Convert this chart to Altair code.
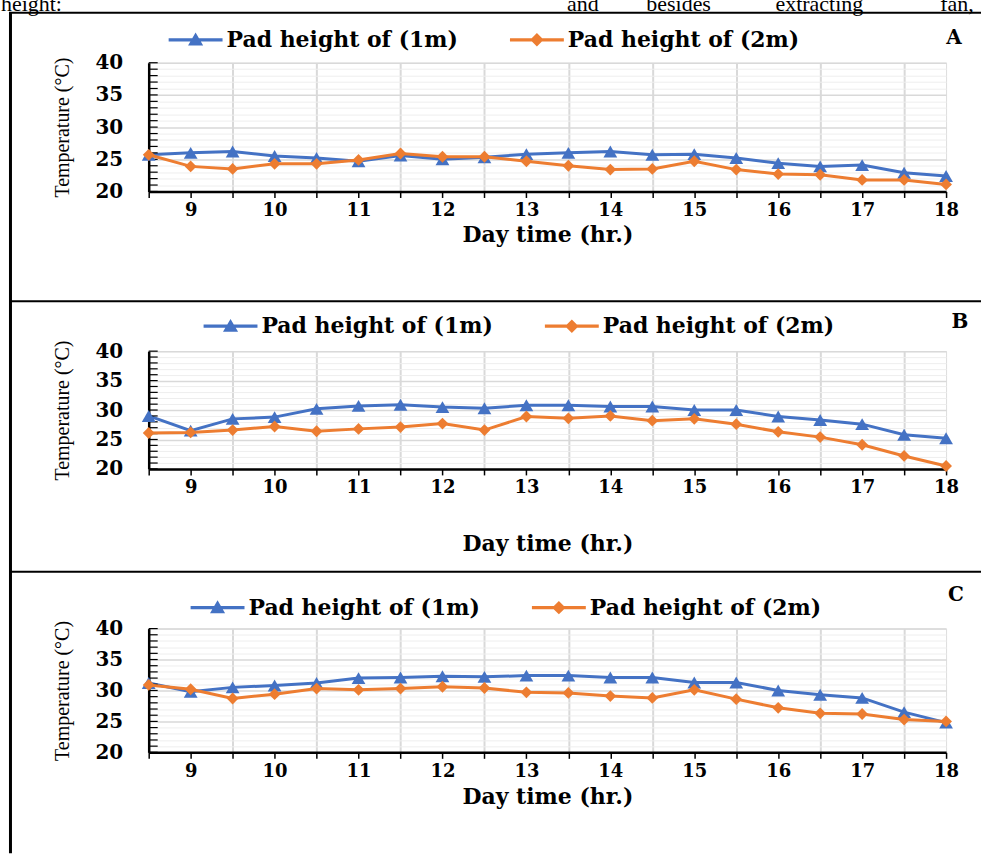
import altair as alt
import pandas as pd

# ---------------- data ----------------
TIME = [8.5, 9, 9.5, 10, 10.5, 11, 11.5, 12, 12.5, 13,
        13.5, 14, 14.5, 15, 15.5, 16, 16.5, 17, 17.5, 18]
SERIES = ["Pad height of (1m)", "Pad height of (2m)"]

A_1M = [25.7, 26.0, 26.2, 25.5, 25.2, 24.7, 25.6, 25.0, 25.3, 25.8,
        26.0, 26.2, 25.7, 25.8, 25.2, 24.4, 23.9, 24.1, 22.9, 22.4]
A_2M = [25.7, 23.9, 23.5, 24.3, 24.3, 24.9, 25.9, 25.4, 25.4, 24.7,
        24.0, 23.4, 23.5, 24.7, 23.4, 22.7, 22.6, 21.8, 21.8, 21.1]
B_1M = [29.0, 26.5, 28.5, 28.8, 30.2, 30.7, 30.9, 30.5, 30.3, 30.8,
        30.8, 30.6, 30.6, 30.0, 30.0, 28.9, 28.3, 27.6, 25.8, 25.2]
B_2M = [26.1, 26.2, 26.6, 27.2, 26.4, 26.8, 27.1, 27.7, 26.6, 28.9,
        28.6, 29.0, 28.2, 28.5, 27.6, 26.3, 25.4, 24.1, 22.2, 20.5]
C_1M = [31.2, 29.8, 30.5, 30.8, 31.2, 32.0, 32.1, 32.3, 32.2, 32.4,
        32.4, 32.1, 32.1, 31.3, 31.3, 30.0, 29.3, 28.8, 26.5, 24.8]
C_2M = [30.9, 30.2, 28.7, 29.4, 30.3, 30.1, 30.3, 30.6, 30.4, 29.7,
        29.6, 29.1, 28.8, 30.1, 28.6, 27.2, 26.3, 26.2, 25.3, 25.0]

Y_TICKS = [20, 21, 22, 23, 24, 25, 26, 27, 28, 29, 30,
           31, 32, 33, 34, 35, 36, 37, 38, 39, 40]

# ---------------- styles ----------------
BLUE = "#4472C4"
ORANGE = "#ED7D31"
BOLD_FONT = "DejaVu Serif"
SERIF = "Liberation Serif"
TRI_PATH = "M-1,-0.06H1V0.06H-1Z M0,-0.27L0.28,0.21L-0.28,0.21Z"
DIA_PATH = "M-1,-0.06H1V0.06H-1Z M0,-0.25L0.25,0L0,0.25L-0.25,0Z"


def panel(blue, orange, height, letter, legend_xy, letter_xy, x_title_pad,
          top_rel, bottom_rel, top_text=False):
    df = pd.DataFrame({
        "time": TIME + TIME,
        "temp": blue + orange,
        "series": [SERIES[0]] * len(TIME) + [SERIES[1]] * len(TIME),
    })
    xs = alt.Scale(domain=[8.5, 18], nice=False, zero=False)
    ys = alt.Scale(domain=[20, 40], nice=False, zero=False)
    x_axis = alt.Axis(
        values=TIME,
        labelExpr="datum.value % 1 === 0 ? format(datum.value, 'd') : ''",
        labelOverlap=False, labelFlush=False,
        grid=True,
        gridColor={"condition": {"test": "datum.value % 1 !== 0 && datum.value > 9",
                                 "value": "#d9d9d9"}, "value": "transparent"},
        gridWidth=2,
        domainColor="black", domainWidth=2.5,
        tickColor="black", tickSize=6, tickWidth=1.5,
        labelFont=BOLD_FONT, labelFontSize=18, labelFontWeight="bold",
        labelColor="black", labelPadding=4,
        title="Day time (hr.)", titleFont=BOLD_FONT, titleFontSize=22,
        titleFontWeight="bold", titleColor="black", titlePadding=x_title_pad,
    )
    y_axis = alt.Axis(
        values=Y_TICKS,
        labelExpr="datum.value % 5 === 0 ? datum.label : ''",
        labelOverlap=False, labelFlush=False,
        grid=True,
        gridColor={"condition": {"test": "datum.value % 5 === 0", "value": "#d9d9d9"},
                   "value": "#eeeeee"},
        gridWidth={"condition": {"test": "datum.value % 5 === 0", "value": 1.5},
                   "value": 1},
        ticks=False,
        domainColor="black", domainWidth=2.5,
        labelFont=BOLD_FONT, labelFontSize=20, labelFontWeight="bold",
        labelColor="black", labelPadding=26,
        title="Temperature (°C)", titleFont=SERIF, titleFontSize=20,
        titleFontWeight="normal", titleColor="black", titlePadding=23,
    )
    X = alt.X("time:Q", scale=xs, axis=x_axis)
    Y = alt.Y("temp:Q", scale=ys, axis=y_axis)
    base = alt.Chart(df)

    inner_ticks = alt.Chart(pd.DataFrame({"temp": Y_TICKS})).mark_rule(
        color="black", strokeWidth=1.2
    ).encode(y=Y, x=alt.value(0), x2=alt.value(9))

    line1 = base.transform_filter(alt.datum.series == SERIES[0]).mark_line(
        color=BLUE, strokeWidth=3).encode(x=X, y=Y)
    pts1 = base.transform_filter(alt.datum.series == SERIES[0]).mark_point(
        shape="triangle-up", filled=True, color=BLUE, size=190, opacity=1).encode(x=X, y=Y)
    line2 = base.transform_filter(alt.datum.series == SERIES[1]).mark_line(
        color=ORANGE, strokeWidth=3).encode(x=X, y=Y)
    pts2 = base.transform_filter(alt.datum.series == SERIES[1]).mark_point(
        shape="diamond", filled=True, color=ORANGE, size=140, opacity=1).encode(x=X, y=Y)

    leg = alt.Legend(
        orient="none", legendX=legend_xy[0], legendY=legend_xy[1],
        direction="horizontal", title=None,
        labelFont=BOLD_FONT, labelFontSize=22, labelFontWeight="bold",
        labelColor="black", labelLimit=500,
        symbolSize=2916, symbolStrokeWidth=0, symbolOpacity=1,
        columnPadding=52, labelOffset=4, padding=0,
    )
    legend_layer = base.transform_filter("false").mark_point(filled=True).encode(
        x=X, y=Y,
        color=alt.Color("series:N", scale=alt.Scale(domain=SERIES, range=[BLUE, ORANGE]),
                        legend=leg),
        shape=alt.Shape("series:N", scale=alt.Scale(domain=SERIES, range=[TRI_PATH, DIA_PATH]),
                        legend=leg),
    )

    deco = alt.Chart(alt.Data(values=[{}]))
    top_line = deco.mark_rule(color="black", strokeWidth=2).encode(
        x=alt.value(-140), x2=alt.value(834), y=alt.value(top_rel))
    left_line = deco.mark_rule(color="black", strokeWidth=3).encode(
        x=alt.value(-138.5), y=alt.value(top_rel), y2=alt.value(bottom_rel))
    letter_mark = deco.mark_text(
        font=BOLD_FONT, fontSize=20, fontWeight="bold", color="black",
        align="center", baseline="middle").encode(
        x=alt.value(letter_xy[0]), y=alt.value(letter_xy[1]), text=alt.value(letter))

    layers = [line1, inner_ticks, pts1, line2, pts2, legend_layer,
              top_line, left_line, letter_mark]

    if top_text:
        tstyle = dict(font=SERIF, fontSize=22, color="black", baseline="top")
        layers.append(deco.mark_text(align="left", **tstyle).encode(
            x=alt.value(-148), y=alt.value(-69), text=alt.value("height:")))
        for word, wx in [("and", 435), ("besides", 531), ("extracting", 672), ("fan,", 810)]:
            layers.append(deco.mark_text(align="center", **tstyle).encode(
                x=alt.value(wx), y=alt.value(-69), text=alt.value(word)))

    return alt.layer(*layers).properties(width=799, height=height)


pA = panel(A_1M, A_2M, 129, "A", (20, -50), (807, -25), 5, -50, 239, top_text=True)
pB = panel(B_1M, B_2M, 118, "B", (55, -52), (813, -29), 37, -50, 221)
pC = panel(C_1M, C_2M, 124, "C", (42, -48), (809, -34), 6, -57, 225)

chart = alt.vconcat(pA, pB, pC, spacing=160, bounds="flush").resolve_scale(
    color="independent", shape="independent"
).resolve_legend(color="independent", shape="independent").properties(
    padding={"top": -9, "left": 0, "right": -2, "bottom": 0}
).configure_view(stroke=None).configure(background="white")

chart.save("out.html", embed_options={"renderer": "svg", "actions": False})
